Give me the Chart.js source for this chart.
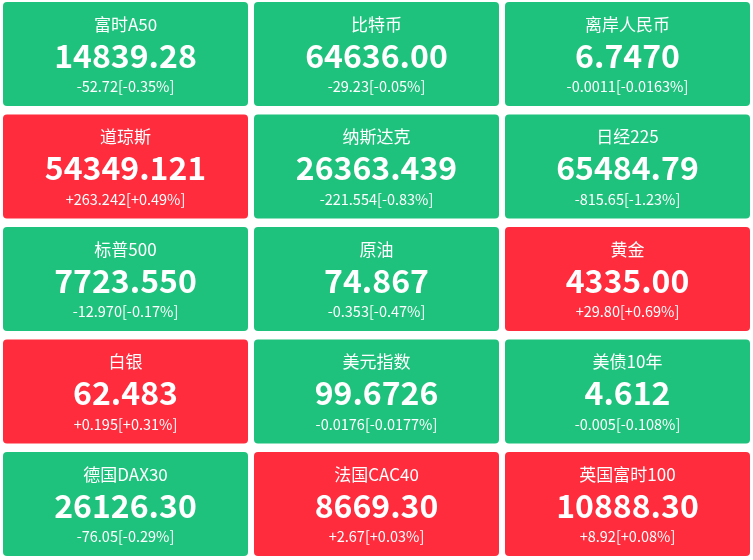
<!DOCTYPE html>
<html>
<head>
<meta charset="utf-8">
<script src="https://cdn.jsdelivr.net/npm/chart.js@4/dist/chart.umd.min.js"></script>
<style>
html,body{margin:0;padding:0;background:#fff;}
#wrap{width:753px;height:560px;position:relative;}
</style>
</head>
<body>
<div id="wrap"><canvas id="c"></canvas></div>
<script>
const names = ['富时A50','比特币','离岸人民币','道琼斯','纳斯达克','日经225','标普500','原油','黄金','白银','美元指数','美债10年','德国DAX30','法国CAC40','英国富时100'];
const prices = ['14839.28','64636.00','6.7470','54349.121','26363.439','65484.79','7723.550','74.867','4335.00','62.483','99.6726','4.612','26126.30','8669.30','10888.30'];
const changes = ['-52.72','-29.23','-0.0011','+263.242','-221.554','-815.65','-12.970','-0.353','+29.80','+0.195','-0.0176','-0.005','-76.05','+2.67','+8.92'];
const percents = ['-0.35%','-0.05%','-0.0163%','+0.49%','-0.83%','-1.23%','-0.17%','-0.47%','+0.69%','+0.31%','-0.0177%','-0.108%','-0.29%','+0.03%','+0.08%'];

const COLS = 3;
const UP = '#fe2c3d';
const DOWN = '#1ec27d';
const PITCH_Y = 112.5, TILE_H = 104, TOP = 2, H = 560;

const cells = names.map((n, i) => {
  const col = i % COLS, row = Math.floor(i / COLS);
  return { x: col + 0.5, y: [row, row + TILE_H / PITCH_Y] };
});
const colors = changes.map(c => c.trim().startsWith('+') ? UP : DOWN);

const FONT = '"Microsoft YaHei","Noto Sans CJK SC","Noto Sans",sans-serif';

const textPlugin = {
  id: 'tileText',
  afterDatasetsDraw(chart) {
    const ctx = chart.ctx;
    const meta = chart.getDatasetMeta(0);
    ctx.save();
    ctx.fillStyle = '#ffffff';
    ctx.textAlign = 'center';
    ctx.textBaseline = 'middle';
    meta.data.forEach((bar, i) => {
      const top = Math.min(bar.y, bar.base);
      const x = bar.x;
      ctx.font = '17px ' + FONT;
      ctx.fillText(names[i], x, top + 22.5);
      ctx.font = 'bold 32px ' + FONT;
      ctx.fillText(prices[i], x, top + 53.5);
      ctx.font = '14.5px ' + FONT;
      ctx.fillText(changes[i] + '[' + percents[i] + ']', x, top + 84.5);
    });
    ctx.restore();
  }
};

new Chart(document.getElementById('c'), {
  type: 'bar',
  data: {
    datasets: [{
      data: cells,
      backgroundColor: colors,
      borderWidth: 0,
      borderRadius: 4,
      borderSkipped: false,
      barPercentage: 245 / 251,
      categoryPercentage: 1
    }]
  },
  options: {
    responsive: true,
    maintainAspectRatio: false,
    animation: false,
    layout: { padding: 0 },
    plugins: { legend: { display: false }, tooltip: { enabled: false } },
    scales: {
      x: { type: 'linear', min: 0, max: 3, offset: false, display: false, ticks: { stepSize: 1 } },
      y: { type: 'linear', reverse: true, min: -TOP / PITCH_Y, max: (H - TOP) / PITCH_Y, display: false }
    }
  },
  plugins: [textPlugin]
});
</script>
</body>
</html>
